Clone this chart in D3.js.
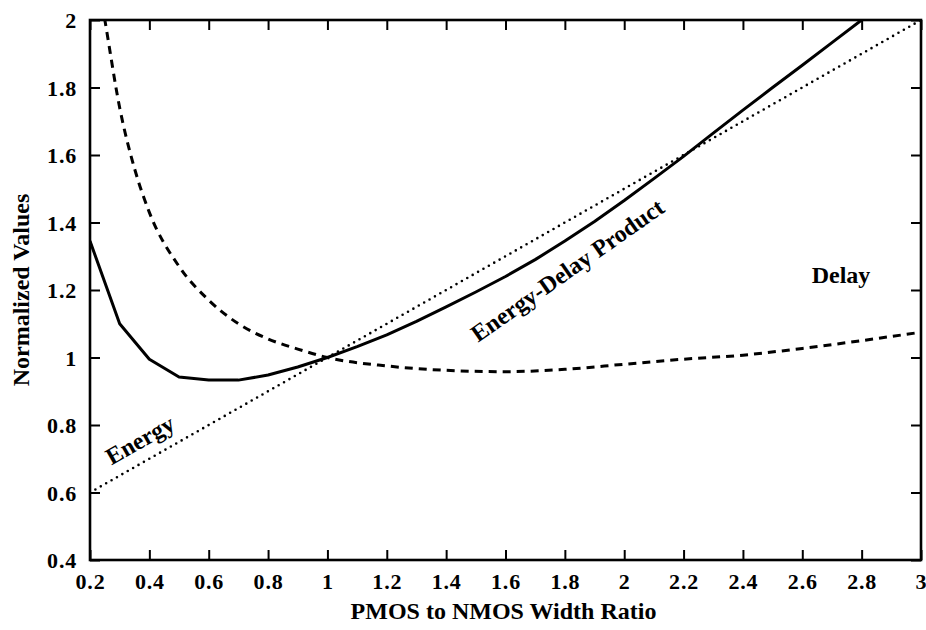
<!DOCTYPE html>
<html>
<head>
<meta charset="utf-8">
<script src="https://cdn.jsdelivr.net/npm/d3@7"></script>
<style>
  html, body { margin: 0; padding: 0; background: #fff; }
  svg { display: block; }
  text { font-family: "Liberation Serif", "Times New Roman", serif; fill: #000; }
</style>
</head>
<body>
<div id="chart"></div>
<script>
// Width ratio (x) and normalized curves
const ENERGY_X = [0.2, 1, 3];
const ENERGY_Y = [0.6, 1, 2];

const DELAY_X = [0.2, 0.25, 0.3, 0.35, 0.4, 0.5, 0.6, 0.7, 0.8, 0.9, 1.0, 1.2, 1.4, 1.6, 1.8, 2.0, 2.2, 2.4, 2.6, 2.8, 3.0];
const DELAY_Y = [2.25, 2.0, 1.74, 1.56, 1.43, 1.27, 1.17, 1.10, 1.055, 1.025, 1.0, 0.975, 0.962, 0.958, 0.965, 0.98, 0.995, 1.007, 1.027, 1.05, 1.075];

const EDP_X = [0.2, 0.3, 0.4, 0.5, 0.6, 0.7, 0.8, 0.9, 1.0, 1.1, 1.2, 1.3, 1.4, 1.5, 1.6, 1.7, 1.8, 1.9, 2.0, 2.1, 2.2, 2.3, 2.4, 2.5, 2.6, 2.7, 2.8, 2.9];
const EDP_Y = [1.345, 1.10, 0.995, 0.942, 0.933, 0.933, 0.948, 0.972, 1.0, 1.032, 1.067, 1.107, 1.15, 1.194, 1.24, 1.29, 1.345, 1.403, 1.465, 1.53, 1.596, 1.665, 1.733, 1.8, 1.866, 1.933, 2.0, 2.068];

const X_TICKS = [0.2, 0.4, 0.6, 0.8, 1, 1.2, 1.4, 1.6, 1.8, 2, 2.2, 2.4, 2.6, 2.8, 3];
const Y_TICKS = [0.4, 0.6, 0.8, 1, 1.2, 1.4, 1.6, 1.8, 2];

const W = 926, H = 630;
const margin = { top: 20, right: 5, bottom: 70, left: 90 };
const pw = W - margin.left - margin.right;
const ph = H - margin.top - margin.bottom;

const x = d3.scaleLinear().domain([0.2, 3]).range([0, pw]);
const y = d3.scaleLinear().domain([0.4, 2]).range([ph, 0]);

const svg = d3.select("#chart").append("svg")
  .attr("width", W).attr("height", H);

svg.append("defs").append("clipPath").attr("id", "plot-clip")
  .append("rect").attr("width", pw).attr("height", ph);

const g = svg.append("g").attr("transform", `translate(${margin.left},${margin.top})`);

const fmt = (d) => String(d);

function styleAxis(sel) {
  sel.select(".domain").remove();
  sel.selectAll(".tick line").attr("stroke", "#000").attr("stroke-width", 2);
  sel.selectAll(".tick text")
    .attr("font-size", 22)
    .attr("font-weight", "bold")
    .attr("letter-spacing", 0.8)
    .attr("fill", "#000");
}

// bottom axis, ticks pointing in
const xAxis = g.append("g").attr("transform", `translate(0,${ph})`)
  .call(d3.axisBottom(x).tickValues(X_TICKS).tickFormat(fmt).tickSizeInner(-10).tickSizeOuter(0).tickPadding(13));
styleAxis(xAxis);

const yAxis = g.append("g")
  .call(d3.axisLeft(y).tickValues(Y_TICKS).tickFormat(fmt).tickSizeInner(-10).tickSizeOuter(0).tickPadding(13));
styleAxis(yAxis);
yAxis.selectAll(".tick text").attr("dy", "0.36em");

// top and right ticks, no labels
const xTop = g.append("g")
  .call(d3.axisTop(x).tickValues(X_TICKS).tickFormat("").tickSizeInner(-10).tickSizeOuter(0));
styleAxis(xTop);
const yRight = g.append("g").attr("transform", `translate(${pw},0)`)
  .call(d3.axisRight(y).tickValues(Y_TICKS).tickFormat("").tickSizeInner(-10).tickSizeOuter(0));
styleAxis(yRight);

// frame
g.append("rect")
  .attr("width", pw).attr("height", ph)
  .attr("fill", "none").attr("stroke", "#000").attr("stroke-width", 2.6);

const lines = g.append("g").attr("clip-path", "url(#plot-clip)");

function series(xs, ys) {
  return xs.map((v, i) => [v, ys[i]]);
}

const lineLinear = d3.line().x((d) => x(d[0])).y((d) => y(d[1]));
const lineSmooth = d3.line().x((d) => x(d[0])).y((d) => y(d[1])).curve(d3.curveMonotoneX);

// Energy: dotted
lines.append("path")
  .datum(series(ENERGY_X, ENERGY_Y))
  .attr("d", lineLinear)
  .attr("fill", "none").attr("stroke", "#000")
  .attr("stroke-width", 2.6).attr("stroke-linecap", "round")
  .attr("stroke-dasharray", "0,6.2");

// Delay: dashed
lines.append("path")
  .datum(series(DELAY_X, DELAY_Y))
  .attr("d", lineSmooth)
  .attr("fill", "none").attr("stroke", "#000")
  .attr("stroke-width", 3).attr("stroke-dasharray", "8,6");

// Energy-delay product: solid
lines.append("path")
  .datum(series(EDP_X, EDP_Y))
  .attr("d", lineLinear)
  .attr("fill", "none").attr("stroke", "#000")
  .attr("stroke-width", 3).attr("stroke-linejoin", "round");

// in-plot labels
function label(text, px, py, angle, size) {
  svg.append("text")
    .attr("transform", `translate(${px},${py}) rotate(${angle})`)
    .attr("text-anchor", "middle")
    .attr("font-size", size)
    .attr("font-weight", "bold")
    .text(text);
}
label("Energy", 144, 447, -29.5, 24);
label("Energy-Delay Product", 572, 277, -35, 24);
label("Delay", 841, 283, 0, 24);

// axis titles
svg.append("text")
  .attr("x", margin.left + pw / 2 - 2).attr("y", 619)
  .attr("text-anchor", "middle")
  .attr("font-size", 24)
  .attr("font-weight", "bold")
  .text("PMOS to NMOS Width Ratio");

svg.append("text")
  .attr("transform", `translate(29,${margin.top + ph / 2}) rotate(-90)`)
  .attr("text-anchor", "middle")
  .attr("font-size", 24)
  .attr("font-weight", "bold")
  .text("Normalized Values");
</script>
</body>
</html>
